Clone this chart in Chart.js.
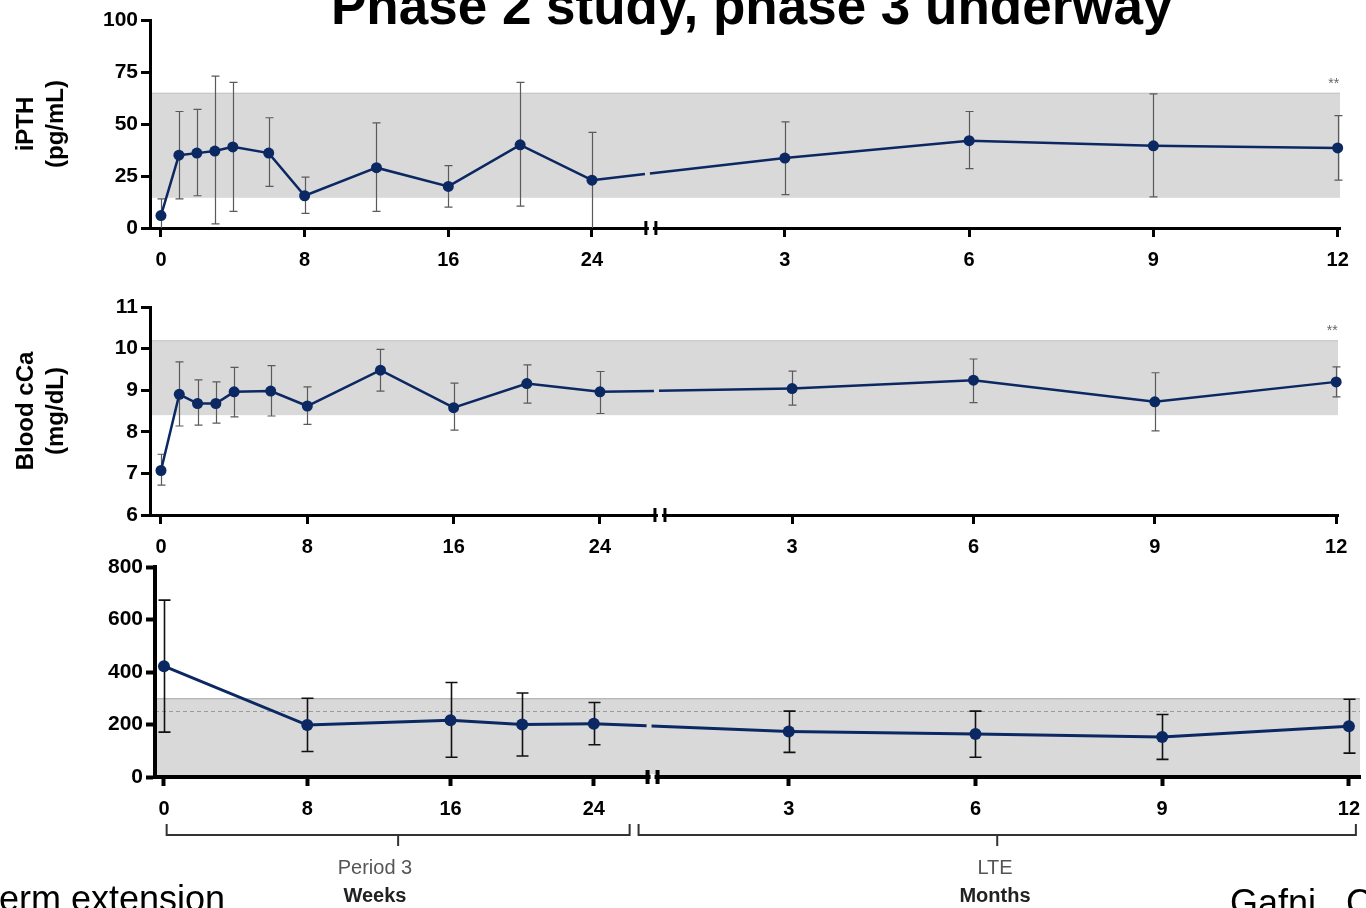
<!DOCTYPE html>
<html>
<head>
<meta charset="utf-8">
<script src="https://cdn.jsdelivr.net/npm/chart.js@4.4.1/dist/chart.umd.min.js"></script>
<style>
  body { margin: 0; background: #fff; }
  #page { position: relative; width: 1366px; height: 908px; overflow: hidden; font-family: 'Liberation Sans', Arial, sans-serif; }
  canvas { position: absolute; left: 0; }
  .txt { position: absolute; white-space: nowrap; }
  #title { left: 331px; top: -21px; font-size: 53px; line-height: 53px; font-weight: bold; color: #000; }
  .sub { font-size: 20px; line-height: 24px; text-align: center; width: 200px; }
</style>
</head>
<body>
<div id="page">
  <div id="title" class="txt">Phase 2 study, phase 3 underway</div>
  <canvas id="pthChart" width="1366" height="285" style="top:0px"></canvas>
  <canvas id="caChart" width="1366" height="280" style="top:290px"></canvas>
  <canvas id="p3Chart" width="1366" height="353" style="top:555px"></canvas>
  <div class="txt sub" style="left:275px; top:855px; color:#555;">Period 3</div>
  <div class="txt sub" style="left:275px; top:883px; color:#222; font-weight:bold;">Weeks</div>
  <div class="txt sub" style="left:895px; top:855px; color:#555;">LTE</div>
  <div class="txt sub" style="left:895px; top:883px; color:#222; font-weight:bold;">Months</div>
  <div class="txt" style="right:1141px; top:881px; font-size:36px; line-height:36px;">erm extension</div>
  <div class="txt" style="left:1230px; top:885px; font-size:36px; line-height:36px;">Gafni,&nbsp;&nbsp;C</div>
</div>
<script>
// x categories: weeks before the axis break, months after it
const weeks = [0, 1, 2, 3, 4, 6, 8, 12, 16, 20, 24];
const months = [3, 6, 9, 12];
const weekTicks = [0, 8, 16, 24];
const monthTicks = [3, 6, 9, 12];

// iPTH (pg/mL)
const pthWeek   = [6, 35, 36, 37, 39, 36, 15.5, 29, 20, 40, 23];
const pthWeekLo = [0, 14, 15.5, 2, 8, 20, 7, 8, 10, 10.5, 0];
const pthWeekHi = [14, 56, 57, 73, 70, 53, 24.5, 50.5, 30, 70, 46];
const pthMonth   = [33.6, 42, 39.5, 38.5];
const pthMonthLo = [16, 28.5, 15, 23];
const pthMonthHi = [51, 56, 64.5, 54];
const pthNormal = [14.5, 65];
const pthYTicks = [0, 25, 50, 75, 100];

// Blood cCa (mg/dL)
const caWeek   = [7.07, 8.90, 8.68, 8.68, 8.96, 8.98, 8.62, 9.48, 8.58, 9.16, 8.96];
const caWeekLo = [6.72, 8.14, 8.16, 8.21, 8.36, 8.38, 8.18, 8.98, 8.04, 8.69, 8.44];
const caWeekHi = [7.46, 9.68, 9.25, 9.20, 9.55, 9.59, 9.08, 9.98, 9.17, 9.61, 9.45];
const caMonth   = [9.04, 9.24, 8.72, 9.20];
const caMonthLo = [8.64, 8.70, 8.02, 8.84];
const caMonthHi = [9.46, 9.75, 9.42, 9.56];
const caNormal = [8.4, 10.2];
const caYTicks = [6, 7, 8, 9, 10, 11];

// third panel (period 3 weeks + LTE months)
const p3Weeks = [0, 8, 16, 20, 24];
const p3Week   = [422, 198, 216, 200, 203];
const p3WeekLo = [171, 97, 75, 80, 123];
const p3WeekHi = [674, 300, 360, 320, 284];
const p3Month   = [173, 164, 152, 193];
const p3MonthLo = [94, 75, 67, 91];
const p3MonthHi = [251, 251, 238, 296];
const p3Normal = [0, 300];
const p3Ref = 250;
const p3YTicks = [0, 200, 400, 600, 800];

const NAVY = '#0b2863';
const FONT = "'Liberation Sans', Arial, sans-serif";

// draws the normal range band, error bars, axis break and the ** note
const panelDecor = {
  id: 'panelDecor',
  beforeDraw(chart, args, o) {
    const { ctx, chartArea: a, scales: { y } } = chart;
    const top = y.getPixelForValue(o.band[1]);
    const bot = y.getPixelForValue(o.band[0]);
    ctx.save();
    ctx.fillStyle = '#d9d9d9';
    ctx.fillRect(a.left, top, a.right - a.left, bot - top);
    ctx.strokeStyle = o.bandEdge;
    ctx.lineWidth = 1;
    ctx.beginPath();
    ctx.moveTo(a.left, top + 0.5);
    ctx.lineTo(a.right, top + 0.5);
    ctx.stroke();
    if (o.ref != null) {
      const ry = Math.round(y.getPixelForValue(o.ref)) + 0.5;
      ctx.strokeStyle = '#9a9a9a';
      ctx.setLineDash([4, 3]);
      ctx.beginPath();
      ctx.moveTo(a.left, ry);
      ctx.lineTo(a.right, ry);
      ctx.stroke();
    }
    ctx.restore();
  },
  beforeDatasetsDraw(chart, args, o) {
    const { ctx, scales: { x, y } } = chart;
    const pts = chart.data.datasets[0].data;
    ctx.save();
    ctx.strokeStyle = o.errColor;
    ctx.lineWidth = o.errWidth;
    pts.forEach((p, i) => {
      const px = Math.round(x.getPixelForValue(p.x)) + 0.5;
      const lo = y.getPixelForValue(o.lo[i]);
      const hi = y.getPixelForValue(o.hi[i]);
      ctx.beginPath();
      ctx.moveTo(px, lo);
      ctx.lineTo(px, hi);
      if (o.lo[i] > y.min) {
        ctx.moveTo(px - o.cap, lo);
        ctx.lineTo(px + o.cap, lo);
      }
      ctx.moveTo(px - o.cap, hi);
      ctx.lineTo(px + o.cap, hi);
      ctx.stroke();
    });
    ctx.restore();
  },
  afterDraw(chart, args, o) {
    const { ctx, chartArea: a, scales: { x, y } } = chart;
    const bx = x.getPixelForValue(o.breakAt);
    ctx.save();
    ctx.fillStyle = '#fff';
    ctx.fillRect(bx - 2, a.bottom - 3, 4, 6);
    ctx.fillStyle = '#000';
    ctx.fillRect(bx - 4 - o.axisW / 2 - 1, a.bottom - 7, o.axisW, 14);
    ctx.fillRect(bx + 4 - o.axisW / 2 + 1, a.bottom - 7, o.axisW, 14);
    if (o.stars) {
      const pts = chart.data.datasets[0].data;
      const last = pts[pts.length - 1];
      ctx.fillStyle = '#666';
      ctx.font = '14px ' + FONT;
      ctx.textAlign = 'center';
      ctx.textBaseline = 'middle';
      ctx.fillText('**', x.getPixelForValue(last.x) - 4, y.getPixelForValue(o.band[1]) - 9);
    }
    if (o.brackets) {
      ctx.strokeStyle = '#333';
      ctx.lineWidth = 2;
      o.brackets.forEach(([from, to]) => {
        const x0 = x.getPixelForValue(from);
        const x1 = x.getPixelForValue(to);
        const xm = (x0 + x1) / 2;
        const yl = a.bottom + 58;
        ctx.beginPath();
        ctx.moveTo(x0, a.bottom + 47);
        ctx.lineTo(x0, yl);
        ctx.lineTo(x1, yl);
        ctx.lineTo(x1, a.bottom + 47);
        ctx.moveTo(xm, yl);
        ctx.lineTo(xm, a.bottom + 69);
        ctx.stroke();
      });
    }
    ctx.restore();
  }
};

function makePanel(id, d, L) {
  const monthPos = m => L.mBase + m * L.mSlope;
  const points = d.weeks.map((w, i) => ({ x: w, y: d.wVals[i] }))
    .concat(months.map((m, i) => ({ x: monthPos(m), y: d.mVals[i] })));
  const lo = d.wLo.concat(d.mLo);
  const hi = d.wHi.concat(d.mHi);
  const xTickPos = weekTicks.concat(monthTicks.map(monthPos));
  const xTickLabels = weekTicks.concat(monthTicks).map(String);
  const xFont = { family: FONT, size: 20, weight: 'bold' };
  const yFont = { family: FONT, size: 21, weight: 'bold' };
  const gridOpts = { drawOnChartArea: false, drawTicks: true, tickLength: 9, tickWidth: L.axisW, tickColor: '#000', color: '#000' };

  return new Chart(document.getElementById(id), {
    type: 'line',
    data: {
      datasets: [{
        data: points,
        borderColor: NAVY,
        borderWidth: L.lineW,
        pointRadius: L.pointR,
        pointBackgroundColor: NAVY,
        pointBorderWidth: 0,
        clip: false,
        tension: 0,
        segment: {
          borderDash: c => {
            const bx = c.chart.scales.x.getPixelForValue(L.breakAt);
            if (c.p0.x < bx && c.p1.x > bx) {
              const len = Math.hypot(c.p1.x - c.p0.x, c.p1.y - c.p0.y);
              const dist = len * (bx - c.p0.x) / (c.p1.x - c.p0.x);
              return [dist - 6, 5, len];
            }
            return [];
          }
        }
      }]
    },
    options: {
      responsive: false,
      animation: false,
      events: [],
      layout: { padding: { left: 0, top: L.padTop, right: L.padRight, bottom: 0 } },
      plugins: {
        legend: { display: false },
        tooltip: { enabled: false },
        panelDecor: {
          band: d.normal, ref: d.ref, bandEdge: L.bandEdge, lo: lo, hi: hi,
          errColor: L.errColor, errWidth: L.errW, cap: L.cap,
          breakAt: L.breakAt, axisW: L.axisW, stars: L.stars, brackets: L.brackets
        }
      },
      scales: {
        x: {
          type: 'linear',
          min: L.xMin,
          max: L.xMax,
          afterBuildTicks: s => { s.ticks = xTickPos.map(v => ({ value: v })); },
          afterFit: s => { s.height = L.xHeight; s.paddingLeft = 0; s.paddingRight = 0; },
          ticks: { autoSkip: false, maxRotation: 0, padding: 11, color: '#000', font: xFont,
                   callback: (v, i) => xTickLabels[i] },
          grid: gridOpts,
          border: { display: true, color: '#000', width: L.axisW }
        },
        y: {
          min: d.yTicks[0],
          max: d.yTicks[d.yTicks.length - 1],
          afterBuildTicks: s => { s.ticks = d.yTicks.map(v => ({ value: v })); },
          afterFit: s => { s.width = L.yWidth; s.paddingTop = 0; s.paddingBottom = 0; },
          ticks: { padding: 3, color: '#000', font: yFont },
          grid: gridOpts,
          border: { display: true, color: '#000', width: L.axisW },
          title: {
            display: !!d.yTitle,
            text: d.yTitle,
            color: '#000',
            font: { family: FONT, size: 24, weight: 'bold', lineHeight: 1.25 },
            padding: { top: 11 }
          }
        }
      }
    },
    plugins: [panelDecor]
  });
}

makePanel('pthChart',
  { weeks: weeks, wVals: pthWeek, wLo: pthWeekLo, wHi: pthWeekHi,
    mVals: pthMonth, mLo: pthMonthLo, mHi: pthMonthHi,
    normal: pthNormal, yTicks: pthYTicks, yTitle: ['iPTH', '(pg/mL)'] },
  { yWidth: 150, padTop: 20, padRight: 26, xHeight: 57, xMin: -0.61, xMax: 65.65,
    mBase: 24.48, mSlope: 3.42, breakAt: 27.28, axisW: 3, lineW: 2.5, pointR: 5.5,
    errColor: '#5a5a5a', errW: 1.2, cap: 4, bandEdge: '#c4c4c4', stars: true });

makePanel('caChart',
  { weeks: weeks, wVals: caWeek, wLo: caWeekLo, wHi: caWeekHi,
    mVals: caMonth, mLo: caMonthLo, mHi: caMonthHi,
    normal: caNormal, yTicks: caYTicks, yTitle: ['Blood cCa', '(mg/dL)'] },
  { yWidth: 150, padTop: 17, padRight: 28, xHeight: 55, xMin: -0.6, xMax: 64.35,
    mBase: 24.59, mSlope: 3.305, breakAt: 27.28, axisW: 3, lineW: 2.5, pointR: 5.5,
    errColor: '#5a5a5a', errW: 1.2, cap: 4, bandEdge: '#c4c4c4', stars: true });

makePanel('p3Chart',
  { weeks: p3Weeks, wVals: p3Week, wLo: p3WeekLo, wHi: p3WeekHi,
    mVals: p3Month, mLo: p3MonthLo, mHi: p3MonthHi,
    normal: p3Normal, ref: p3Ref, yTicks: p3YTicks, yTitle: null },
  { yWidth: 155, padTop: 12, padRight: 0, xHeight: 131, xMin: -0.5, xMax: 66.78,
    mBase: 24.46, mSlope: 3.475, breakAt: 27.28, axisW: 4, lineW: 3, pointR: 6,
    errColor: '#111', errW: 1.6, cap: 6, bandEdge: '#a8a8a8', stars: false,
    brackets: [[0.15, 26], [26.5, 66.55]] });
</script>
</body>
</html>
